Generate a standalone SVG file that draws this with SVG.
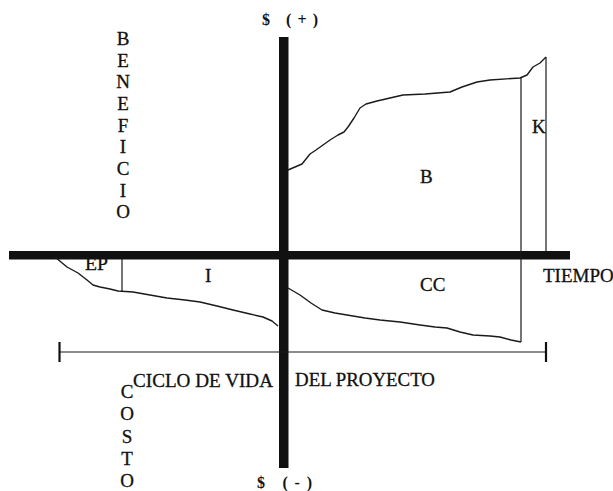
<svg xmlns="http://www.w3.org/2000/svg" width="613" height="491" viewBox="0 0 613 491">
<style>
.t{font-family:"Liberation Serif","Times New Roman",serif;font-size:19px;fill:#111;stroke:#111;stroke-width:0.3}
.v{font-family:"Liberation Serif","Times New Roman",serif;font-size:19px;fill:#111;stroke:#111;stroke-width:0.3;text-anchor:middle}
.b{font-family:"Liberation Serif","Times New Roman",serif;font-size:16px;font-weight:bold;fill:#111}
.c{fill:none;stroke:#1a1a1a;stroke-width:1.4;stroke-linejoin:round}
.l{fill:none;stroke:#1a1a1a;stroke-width:1.2}
</style>
<rect width="613" height="491" fill="#fff"/>
<g id="axes">
<rect x="279" y="37" width="9.5" height="431" fill="#111"/>
<rect x="9" y="251" width="561" height="8.5" fill="#111"/>
</g>
<g id="curves">
<polyline class="c" points="288,170 302,164 306,159 310,154 316,150 323,145 330,140 338,135 344,132 348,127 354,118 360,108 366,104 377,101 390,98 403,95 425,94 450,92 462,87 477,82 490,80 520,78 527,75 533,67 540,63 546,57"/>
<polyline class="c" points="55,257 67,267 78,273 87,280 93,285 100,287 110,289 118,291 133,292 150,295 167,298 185,300 200,302 217,306 233,310 250,314 263,317 272,321 278,326"/>
<polyline class="c" points="288,288 300,295 311,303 322,310 335,313 347,315 365,318 380,320 400,322 420,325 435,327 447,328 460,332 473,335 490,336 500,337 511,340 521,342"/>
</g>
<g id="dividers">
<line class="l" x1="521" y1="78" x2="521" y2="342"/>
<line class="l" x1="546" y1="57" x2="546" y2="251"/>
<line class="l" x1="122" y1="259" x2="122" y2="292"/>
</g>
<g id="lifecycle">
<line class="l" x1="59" y1="352" x2="546" y2="352"/>
<line x1="59.5" y1="342" x2="59.5" y2="362" stroke="#111" stroke-width="2.2"/>
<line x1="546" y1="342" x2="546" y2="362" stroke="#111" stroke-width="2.2"/>
<text class="t" x="133" y="387" textLength="140" lengthAdjust="spacingAndGlyphs">CICLO DE VIDA</text>
<text class="t" x="295" y="386" textLength="140" lengthAdjust="spacingAndGlyphs">DEL PROYECTO</text>
</g>
<g id="labels">
<text class="b" x="262" y="25" textLength="56" lengthAdjust="spacing">$ (+)</text>
<text class="b" x="257" y="488" textLength="55" lengthAdjust="spacing">$ (-)</text>
<text class="t" x="543" y="282">TIEMPO</text>
<text class="t" x="420" y="291">CC</text>
<text class="t" x="420" y="183">B</text>
<text class="t" x="532" y="133">K</text>
<text class="t" x="85" y="270" font-size="18" textLength="23" lengthAdjust="spacingAndGlyphs">EP</text>
<text class="t" x="205" y="282">I</text>
</g>
<g id="beneficio">
<text class="v" x="123" y="45">B</text>
<text class="v" x="123" y="67">E</text>
<text class="v" x="123" y="88">N</text>
<text class="v" x="123" y="110">E</text>
<text class="v" x="123" y="132">F</text>
<text class="v" x="123" y="153">I</text>
<text class="v" x="123" y="175">C</text>
<text class="v" x="123" y="197">I</text>
<text class="v" x="123" y="218">O</text>
</g>
<g id="costo">
<text class="v" x="127" y="398">C</text>
<text class="v" x="127" y="420">O</text>
<text class="v" x="127" y="443">S</text>
<text class="v" x="127" y="465">T</text>
<text class="v" x="127" y="487">O</text>
</g>
</svg>
